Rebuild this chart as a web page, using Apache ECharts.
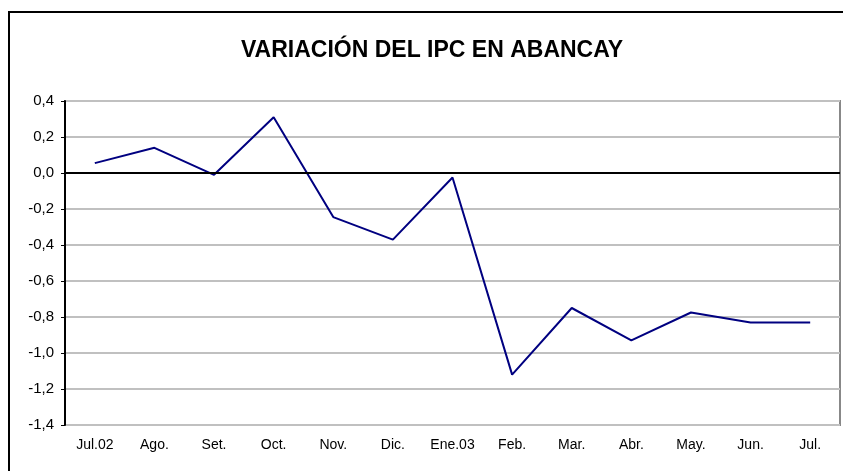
<!DOCTYPE html>
<html><head><meta charset="utf-8">
<script src="https://cdn.jsdelivr.net/npm/echarts@6/dist/echarts.min.js"></script>
<style>html,body{margin:0;padding:0;background:#fff}#c{width:843px;height:471px}</style>
</head><body><div id="c"></div>
<script>
const titleText = "VARIACIÓN DEL IPC EN ABANCAY";
const categories = ["Jul.02","Ago.","Set.","Oct.","Nov.","Dic.","Ene.03","Feb.","Mar.","Abr.","May.","Jun.","Jul."];
const ipcValues = [0.055, 0.14, -0.01, 0.31, -0.245, -0.37, -0.025, -1.12, -0.75, -0.93, -0.775, -0.83, -0.83];
const yMin = -1.4, yMax = 0.4, yStep = 0.2;

const chart = echarts.init(document.getElementById('c'), null, {renderer:'canvas'});
chart.setOption({
  backgroundColor:'#fff',
  animation:false,
  title:{text:titleText,left:427,textAlign:'center',top:34,
    textStyle:{fontFamily:'Liberation Sans, Arial, sans-serif',fontWeight:'bold',fontSize:23,color:'#000'}},
  graphic:[{type:'rect',shape:{x:9,y:12,width:850,height:480},style:{fill:'none',stroke:'#000',lineWidth:2},z:100}],
  grid:{left:65,right:3,top:101,bottom:46,show:true,borderColor:'#888',borderWidth:2,backgroundColor:'#fff'},
  xAxis:{type:'category',data:categories,boundaryGap:true,
    axisLine:{show:false},axisTick:{show:false},
    axisLabel:{color:'#000',fontFamily:'Liberation Sans Narrow, Arial Narrow, Liberation Sans, Arial, sans-serif',fontSize:14,margin:13,interval:0}},
  yAxis:{type:'value',min:yMin,max:yMax,interval:yStep,
    axisLine:{show:true,lineStyle:{color:'#000',width:2}},
    axisTick:{show:true,length:4,lineStyle:{color:'#000',width:1}},
    splitLine:{show:true,lineStyle:{color:'#c0c0c0',width:2}},
    axisLabel:{color:'#000',fontFamily:'Liberation Sans, Arial, sans-serif',fontSize:15,margin:11,
      formatter:v=>v.toFixed(1).replace('.',',')}},
  series:[{type:'line',data:ipcValues,symbol:'none',lineStyle:{color:'#000080',width:2},
    markLine:{silent:true,symbol:'none',label:{show:false},lineStyle:{color:'#000',width:2,type:'solid'},data:[{yAxis:0}]}}]
});
</script></body></html>
